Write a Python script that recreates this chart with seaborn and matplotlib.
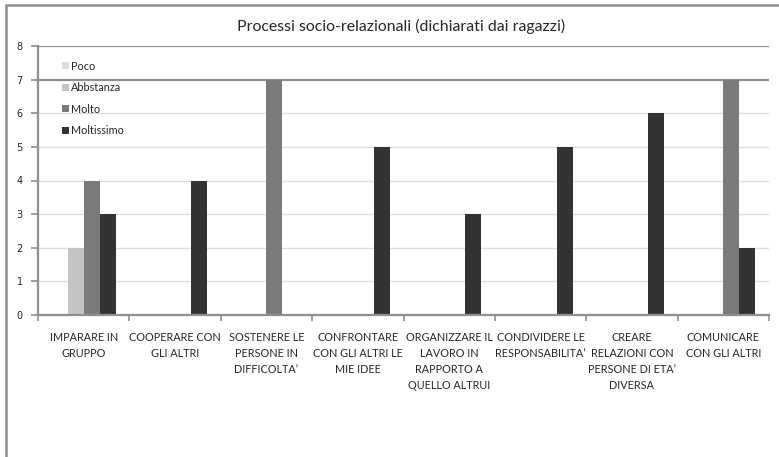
import numpy as np
import pandas as pd
import matplotlib
matplotlib.use("Agg")
import matplotlib.pyplot as plt
from matplotlib.patches import Rectangle
import seaborn as sns

categories = [
    "IMPARARE IN\nGRUPPO",
    "COOPERARE CON\nGLI ALTRI",
    "SOSTENERE LE\nPERSONE IN\nDIFFICOLTA\u2019",
    "CONFRONTARE\nCON GLI ALTRI LE\nMIE IDEE",
    "ORGANIZZARE IL\nLAVORO IN\nRAPPORTO A\nQUELLO ALTRUI",
    "CONDIVIDERE LE\nRESPONSABILITA\u2019",
    "CREARE\nRELAZIONI CON\nPERSONE DI ETA\u2019\nDIVERSA",
    "COMUNICARE\nCON GLI ALTRI",
]
series = ["Poco", "Abbstanza", "Molto", "Moltissimo"]
poco = [0, 0, 0, 0, 0, 0, 0, 0]
abbastanza = [2, 0, 0, 0, 0, 0, 0, 0]
molto = [4, 0, 7, 0, 0, 0, 0, 7]
moltissimo = [3, 4, 0, 5, 3, 5, 6, 2]
title = "Processi socio-relazionali (dichiarati dai ragazzi)"
y_ticks = [0, 1, 2, 3, 4, 5, 6, 7, 8]

colors = ["#dcdcdc", "#c4c4c4", "#7a7a7a", "#333333"]

df = pd.DataFrame({
    "categoria": np.tile(categories, 4),
    "serie": np.repeat(series, len(categories)),
    "valore": poco + abbastanza + molto + moltissimo,
})

sns.set_theme(style="white")
plt.rcParams["font.family"] = ["Lato", "DejaVu Sans"]

fig = plt.figure(figsize=(7.79, 4.57), dpi=100)
ax = fig.add_axes([38 / 779, 1 - 315 / 457, (769 - 38) / 779, (315 - 46) / 457])

# horizontal gridlines
for v in y_ticks[1:]:
    col = "#8f8f8f" if v >= 7 else "#dedede"
    lw = 1.6 if v >= 7 else 1.0
    ax.axhline(v, color=col, lw=lw, zorder=0)

sns.barplot(data=df, x="categoria", y="valore", hue="serie",
            hue_order=series, palette=colors, width=0.7,
            linewidth=0, saturation=1, ax=ax, zorder=2)

ax.set_ylim(0, 8)
ax.set_xlim(-0.5, len(categories) - 0.5)
ax.set_yticks(y_ticks)
ax.set_yticklabels([str(v) for v in y_ticks], fontsize=7, family="DejaVu Sans")
ax.set_xlabel("")
ax.set_ylabel("")

# category boundaries carry the ticks, centres carry the labels
ax.set_xticks(np.arange(-0.5, len(categories) + 0.5, 1.0))
ax.set_xticklabels([])
ax.set_xticks(np.arange(len(categories)), minor=True)
ax.set_xticklabels(categories, minor=True, fontsize=7.8, linespacing=1.56,
                   va="top", ha="center")
ax.tick_params(axis="x", which="minor", length=0, pad=12)
ax.tick_params(axis="x", which="major", length=4, width=1.2, color="#8f8f8f",
               direction="out", bottom=True)
ax.tick_params(axis="y", length=5, width=1.2, color="#8f8f8f", direction="out",
               left=True, pad=6)

for s in ["top", "right"]:
    ax.spines[s].set_visible(False)
for s in ["left", "bottom"]:
    ax.spines[s].set_color("#8f8f8f")
    ax.spines[s].set_linewidth(1.6)

ax.set_title(title, fontsize=11.4, pad=11, x=0.497)

leg = ax.legend(loc="upper left", bbox_to_anchor=(0.027, 0.962), frameon=False,
                fontsize=7.8, handlelength=0.6, handleheight=0.6,
                handletextpad=0.25, labelspacing=0.97, borderaxespad=0)

# outer chart border
fig.patches.append(Rectangle((6 / 779, -0.1), 1.2, 1.1 - 5 / 457,
                             transform=fig.transFigure, fill=False,
                             edgecolor="#8f8f8f", lw=1.8, zorder=0))

fig.savefig("out.png", dpi=100)
